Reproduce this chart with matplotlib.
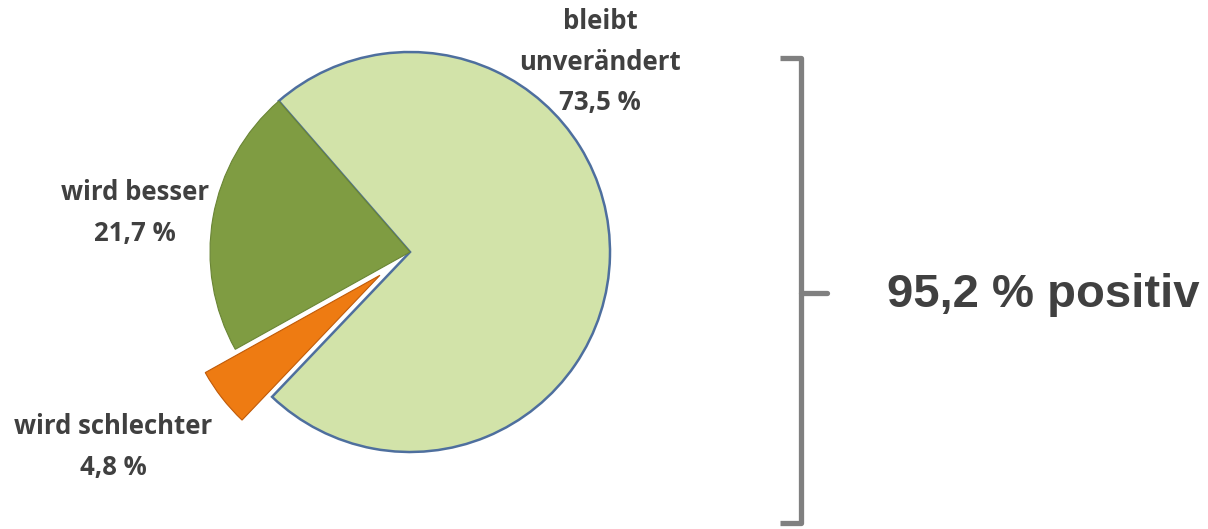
import matplotlib.pyplot as plt

labels = ['bleibt\nunverändert', 'wird schlechter', 'wird besser']
shares = [73.5, 4.8, 21.7]
pct_text = ['73,5 %', '4,8 %', '21,7 %']
colors = ['#d2e3a9', '#ee7b12', '#7f9c42']
explode = [0, 0.19, 0]
summary = '95,2 % positiv'

W, H = 1208, 529
fig = plt.figure(figsize=(W / 100, H / 100), dpi=100)
ax = fig.add_axes([0, 0, 1, 1])

cx, cy, r = 410, H - 252, 200
# pie explode is in data units, so scale by radius
wedges, _ = ax.pie(shares, colors=colors, explode=[e * r for e in explode],
                   startangle=131, counterclock=False, center=(cx, cy),
                   radius=r, frame=True)
ax.set_xlim(0, W)
ax.set_ylim(0, H)
ax.set_aspect('equal')
ax.axis('off')
wedges[0].set_edgecolor('#4e6f9e')
wedges[0].set_linewidth(1.8)
wedges[1].set_edgecolor('#c05a08')
wedges[1].set_linewidth(0.8)
wedges[2].set_edgecolor('#6a8535')
wedges[2].set_linewidth(0.8)

lab_font = dict(family=['Open Sans', 'DejaVu Sans'], fontweight='bold', fontsize=18.5,
                color='#404040', ha='center', va='center', linespacing=1.62)
# label positions (image pixel coords of text centre)
pos = [(600, 62), (113, 447), (135, 213)]
for lab, pct, (x, y) in zip(labels, pct_text, pos):
    ax.text(x, H - y, lab + '\n' + pct, **lab_font)

# curly bracket
bx = 801
ax.plot([780, bx, bx, 780], [H - 58, H - 58, H - 523, H - 523],
        color='#808080', lw=3.8, solid_joinstyle='round', solid_capstyle='butt')
ax.plot([bx, 827], [H - 293, H - 293], color='#808080', lw=3.8, solid_capstyle='round')

ax.text(1043, H - 295, summary, family=['Liberation Sans', 'DejaVu Sans'],
        fontweight='bold', fontsize=34, color='#404040', ha='center', va='center')

fig.savefig('out.png', dpi=100)
